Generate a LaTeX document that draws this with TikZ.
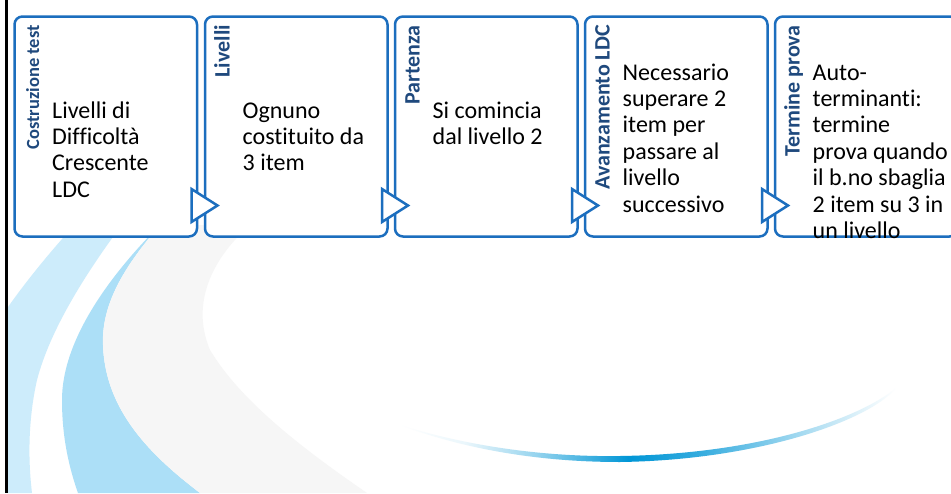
\documentclass[tikz,border=0pt]{standalone}
\usepackage{fontspec}
\setmainfont[Ligatures=NoCommon]{Carlito}
\usetikzlibrary{calc}
\definecolor{boxblue}{RGB}{28,110,190}
\definecolor{labelblue}{RGB}{31,73,125}
\definecolor{bandA}{RGB}{205,236,251}
\definecolor{bandB}{RGB}{172,223,247}
\definecolor{bandC}{RGB}{246,246,246}
\definecolor{curveblue}{RGB}{0,150,214}
\pgfdeclarehorizontalshading{curvesh}{100bp}{color(0bp)=(white); color(25bp)=(white); color(31.5bp)=(curveblue!8); color(38.5bp)=(curveblue!40); color(48bp)=(curveblue); color(55bp)=(curveblue!80); color(65.5bp)=(curveblue!35); color(72bp)=(curveblue!10); color(75bp)=(white); color(100bp)=(white)}
\begin{document}
\begin{tikzpicture}[x=1pt,y=-1pt,
  stepbox/.style={draw=boxblue, line width=2.5pt, fill=white, rounded corners=8pt,
    minimum width=182.5pt, minimum height=220pt, inner sep=0pt, outer sep=0pt},
  lbl/.style={rotate=90, anchor=base east, inner sep=0pt, text=labelblue,
    font=\fontsize{22}{24}\selectfont\bfseries},
  lblsmall/.style={lbl, font=\fontsize{18.5}{20}\selectfont\bfseries},
  body/.style={anchor=base west, inner sep=0pt, align=left,
    font=\fontsize{24}{26.4}\selectfont},
  chev/.style={draw=boxblue, line width=2.5pt, fill=white, line join=miter}
]
\useasboundingbox (0,0) rectangle (951,493);
\clip (0,0) rectangle (951,493);
\fill[white] (0,0) rectangle (951,493);
% background swooshes
\fill[bandA] (8,307) .. controls (25,283) and (45,258) .. (70,230) -- (118,230)
  .. controls (85,275) and (50,330) .. (37,380) .. controls (28,420) and (28,460) .. (32,493)
  -- (8,493) -- cycle;
\fill[bandB] (160,225) .. controls (110,275) and (62,340) .. (62,400)
  .. controls (62,440) and (70,470) .. (78,493) -- (200,493)
  .. controls (150,455) and (105,410) .. (103,345)
  .. controls (101,300) and (130,260) .. (160,225) -- cycle;
\fill[bandC] (160,225) .. controls (130,260) and (101,300) .. (103,345)
  .. controls (105,410) and (150,455) .. (200,493) -- (367,493)
  .. controls (300,447) and (240,400) .. (210,350)
  .. controls (193,310) and (205,265) .. (250,225) -- cycle;
% bottom gradient curve
\shade[shading=curvesh]
  (400,425) .. controls (480,455) and (560,462) .. (620,462)
  .. controls (760,460) and (870,420) .. (896,388)
  .. controls (860,418) and (760,454) .. (620,456)
  .. controls (560,457) and (480,450) .. (400,425) -- cycle;
% left border
\draw[line width=2.8pt] (6.7,0) -- (6.7,493);
% boxes
\node[stepbox] (b1) at (105.75,126.5) {};
\node[stepbox] (b2) at (296.25,126.5) {};
\node[stepbox] (b3) at (486.25,126.5) {};
\node[stepbox] (b4) at (676.25,126.5) {};
\node[stepbox] (b5) at (866.25,126.5) {};
% chevrons
\foreach \i in {1,...,4}
  \draw[chev] ($(b\i.south east)+(-5.5,-47.5)$) -- ($(b\i.south east)+(20.5,-31)$)
    -- ($(b\i.south east)+(-5.5,-14.5)$) -- cycle;
% labels
\node[lblsmall] (l1) at ($(b1.north west)+(24.5,8.5)$) {Costruzione test};
\node[lbl] (l2) at ($(b2.north west)+(24.5,8.5)$) {Livelli};
\node[lbl] (l3) at ($(b3.north west)+(24.5,8.5)$) {Partenza};
\node[lbl] (l4) at ($(b4.north west)+(24.5,8.5)$) {Avanzamento LDC};
\node[lbl] (l5) at ($(b5.north west)+(24.5,8.5)$) {Termine prova};
% body texts (anchor = baseline of last line)
\node[body] (t1) at ($(b1.north west)+(37.5,180.7)$) {Livelli di\\Difficoltà\\Crescente\\LDC};
\node[body] (t2) at ($(b2.north west)+(37.5,154.3)$) {Ognuno\\costituito da\\3 item};
\node[body] (t3) at ($(b3.north west)+(37.5,127.9)$) {Si comincia\\dal livello 2};
\node[body] (t4) at ($(b4.north west)+(37.5,195.5)$) {Necessario\\superare 2\\item per\\passare al\\livello\\successivo};
\node[body] (t5) at ($(b5.north west)+(37.5,221.9)$) {Auto-\\terminanti:\\termine\\prova quando\\il b.no sbaglia\\2 item su 3 in\\un livello};
\end{tikzpicture}
\end{document}
